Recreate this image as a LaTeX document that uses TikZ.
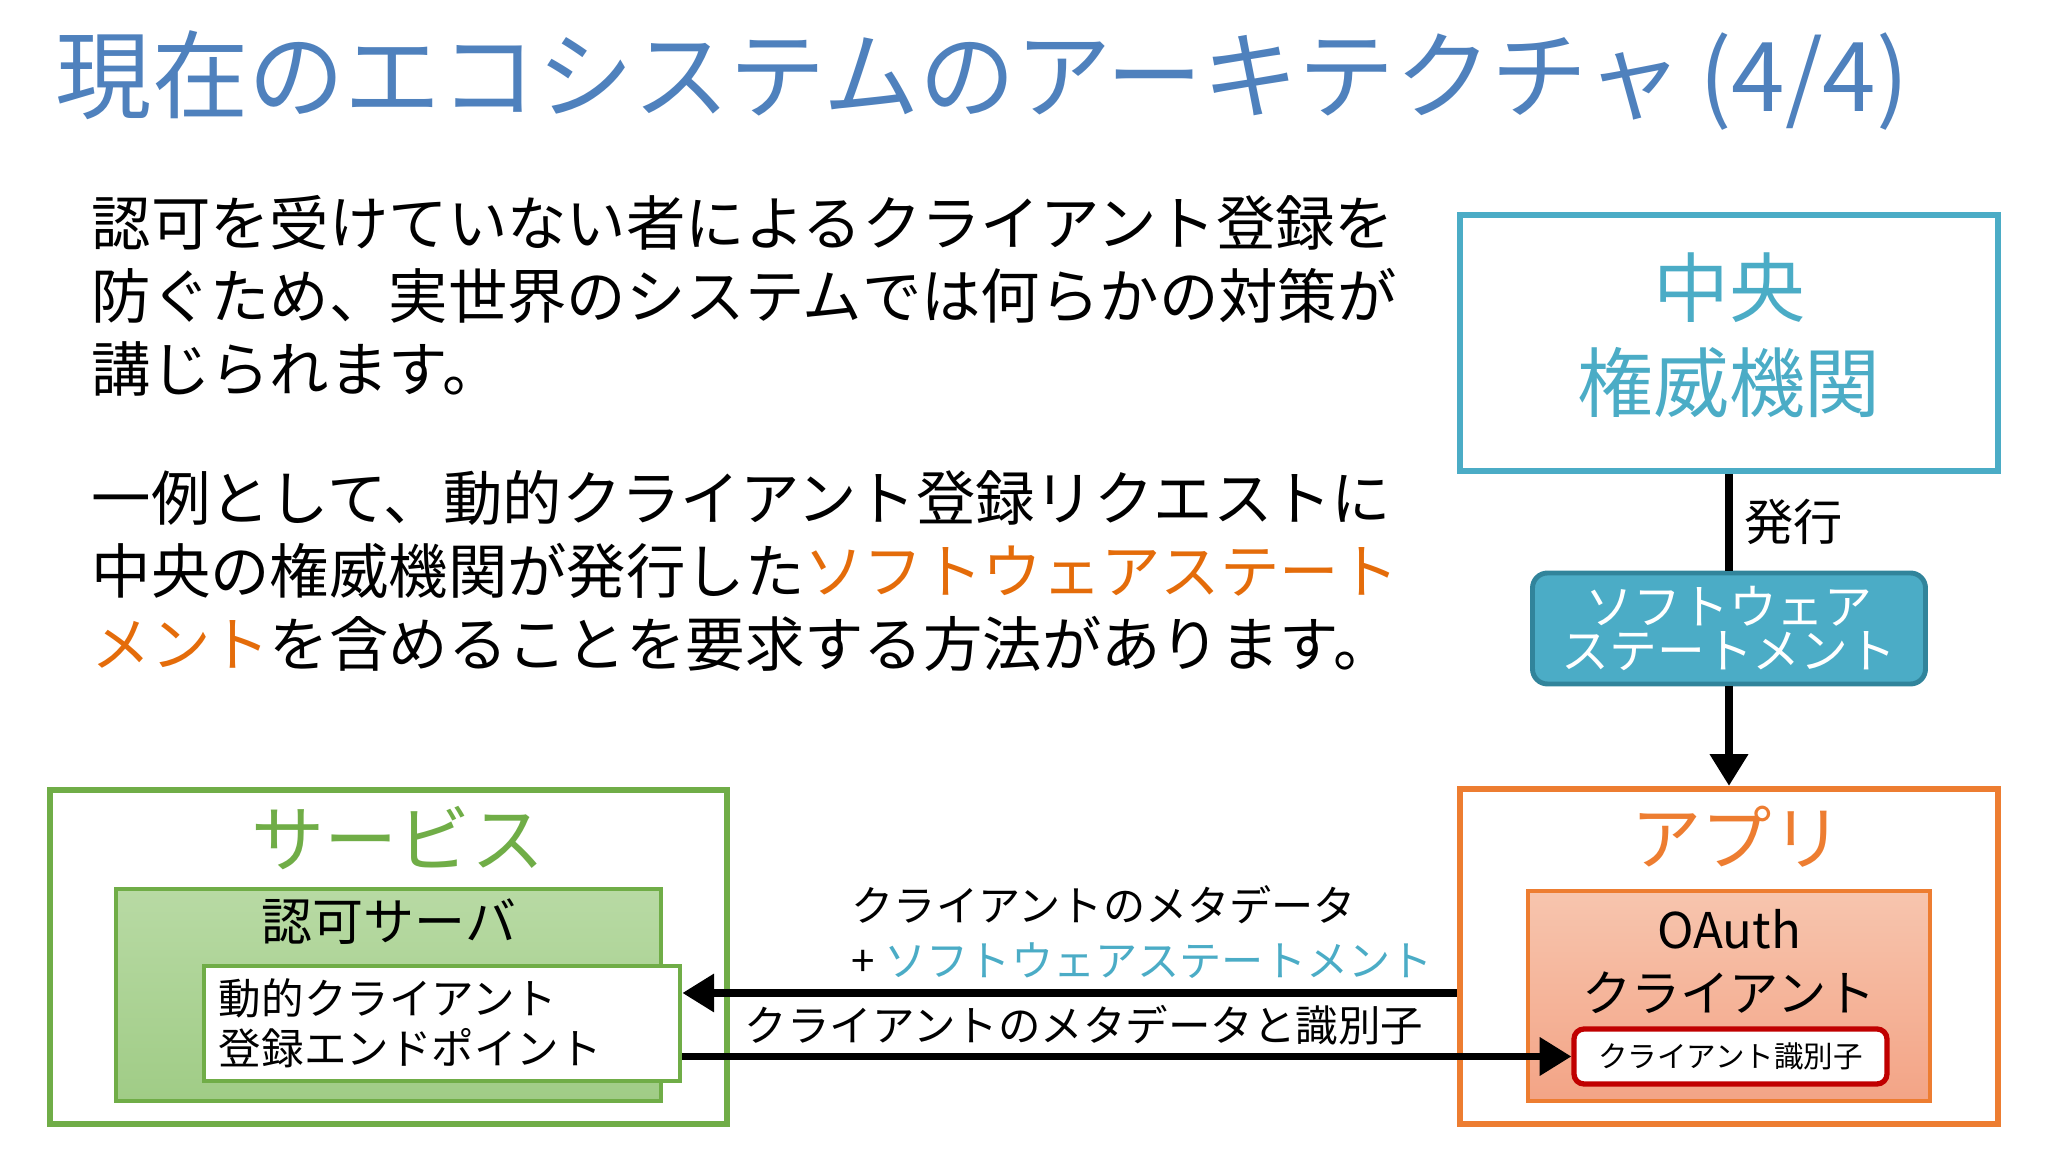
\documentclass[tikz,border=0pt]{standalone}
\usepackage{fontspec}
\setmainfont{Noto Sans CJK JP}
\usepackage{tikz}
\usetikzlibrary{arrows.meta, positioning, calc}
\usepackage{xcolor}
\definecolor{titleblue}{RGB}{79,129,189}
\definecolor{noteorange}{RGB}{228,108,10}
\definecolor{authteal}{RGB}{75,172,198}
\definecolor{authtealdark}{RGB}{49,132,155}
\definecolor{apporange}{RGB}{237,125,49}
\definecolor{oauthtop}{RGB}{247,197,174}
\definecolor{oauthbottom}{RGB}{243,164,134}
\definecolor{servicegreen}{RGB}{112,173,71}
\definecolor{astop}{RGB}{184,218,164}
\definecolor{asbottom}{RGB}{160,204,134}
\definecolor{idred}{RGB}{192,0,0}
\newcommand{\fsz}[2]{\fontsize{#1}{#2}\selectfont}

\begin{document}
\begin{tikzpicture}[
  frame/.style={draw, line width=1.8pt, minimum width=5.38cm, inner sep=0pt},
  inner/.style={draw, line width=1.4pt, inner sep=0pt},
  arrow/.style={-{Triangle[length=9pt, width=10.5pt]}, line width=2pt}
]
\useasboundingbox (0,0) rectangle (20.48,11.52);

% Title
\node[anchor=west, inner sep=0, text=titleblue, font=\fsz{27.4}{27.4}] (title) at (0.55,10.71)
  {現在のエコシステムのアーキテクチャ\,(4/4)};

% Body text
\node[anchor=west, inner sep=0, align=left, font=\fsz{16.9}{20.8}] (para1) at (0.91,8.56)
  {認可を受けていない者によるクライアント登録を\\
   防ぐため、実世界のシステムでは何らかの対策が\\
   講じられます。};
\node[anchor=west, inner sep=0, align=left, font=\fsz{16.9}{20.8}] (para2) at (0.91,5.81)
  {一例として、動的クライアント登録リクエストに\\
   中央の権威機関が発行した\textcolor{noteorange}{ソフトウェアステート}\\
   \textcolor{noteorange}{メント}を含めることを要求する方法があります。};

% Central authority (top right)
\node[frame, draw=authteal, minimum height=2.56cm] (ca) at (17.29,8.09) {};
\node[text=authteal, align=center, font=\fsz{21.6}{27}] (calabel) at (17.29,8.17) {中央\\権威機関};

% Software statement
\node[draw=authtealdark, fill=authteal, line width=1.4pt, rounded corners=0.15cm, minimum width=3.93cm, minimum height=1.11cm,
  inner sep=0pt, text=white, align=center, font=\fsz{13.6}{12.5}] (sw) at (17.29,5.235)
  {ソフトウェア\\ステートメント};

% App (bottom right)
\node[frame, draw=apporange, minimum height=3.35cm] (app) at (17.29,1.955) {};
\node[text=apporange, font=\fsz{20}{20}] (applabel) at (17.37,3.15) {アプリ};
\node[inner, draw=apporange, top color=oauthtop, bottom color=oauthbottom, minimum width=4.02cm, minimum height=2.10cm] (oauth) at (17.29,1.56) {};
\node[align=center, font=\fsz{14}{18}] (oauthlabel) at (17.29,1.905) {OAuth\\クライアント};
\node[draw=idred, fill=white, line width=1.5pt, rounded corners=0.1cm, minimum width=3.13cm, minimum height=0.55cm,
  inner sep=0pt, font=\fsz{8.4}{8.4}] (cid) at (17.305,0.955) {クライアント識別子};

% Service (bottom left)
\node[frame, draw=servicegreen, minimum width=6.77cm, minimum height=3.34cm] (svc) at (3.885,1.95) {};
\node[text=servicegreen, font=\fsz{20.8}{20.8}] (svclabel) at (3.98,3.14) {サービス};
\node[inner, draw=servicegreen, top color=astop, bottom color=asbottom, minimum width=5.45cm, minimum height=2.12cm] (as) at (3.885,1.57) {};
\node[font=\fsz{14.5}{14.5}] (aslabel) at (3.89,2.30) {認可サーバ};
\node[inner, draw=servicegreen, fill=white, minimum height=1.15cm, text width=4.46cm, inner xsep=0.15cm, align=left,
  font=\fsz{12.1}{14.2}] (ep) at (4.42,1.285) {動的クライアント\\登録エンドポイント};

% Arrows
\draw[line width=2pt] (ca) -- node[right, font=\fsz{14}{14}] (issue) {発行} (sw);
\draw[arrow] (sw) -- (app);
\draw[arrow] ([yshift=3.05mm]ep.east -| app.west) -- ([yshift=3.05mm]ep.east);
\draw[arrow] (ep.east |- cid.west) -- (cid.west);

% Arrow labels
\node[anchor=west, inner sep=0, align=left, font=\fsz{12}{15.4}] (meta) at (8.51,2.20)
  {クライアントのメタデータ\\+ \textcolor{authteal}{ソフトウェアステートメント}};
\node[anchor=west, inner sep=0, font=\fsz{12.1}{12.1}] (metaid) at (7.44,1.27) {クライアントのメタデータと識別子};

\end{tikzpicture}
\end{document}
